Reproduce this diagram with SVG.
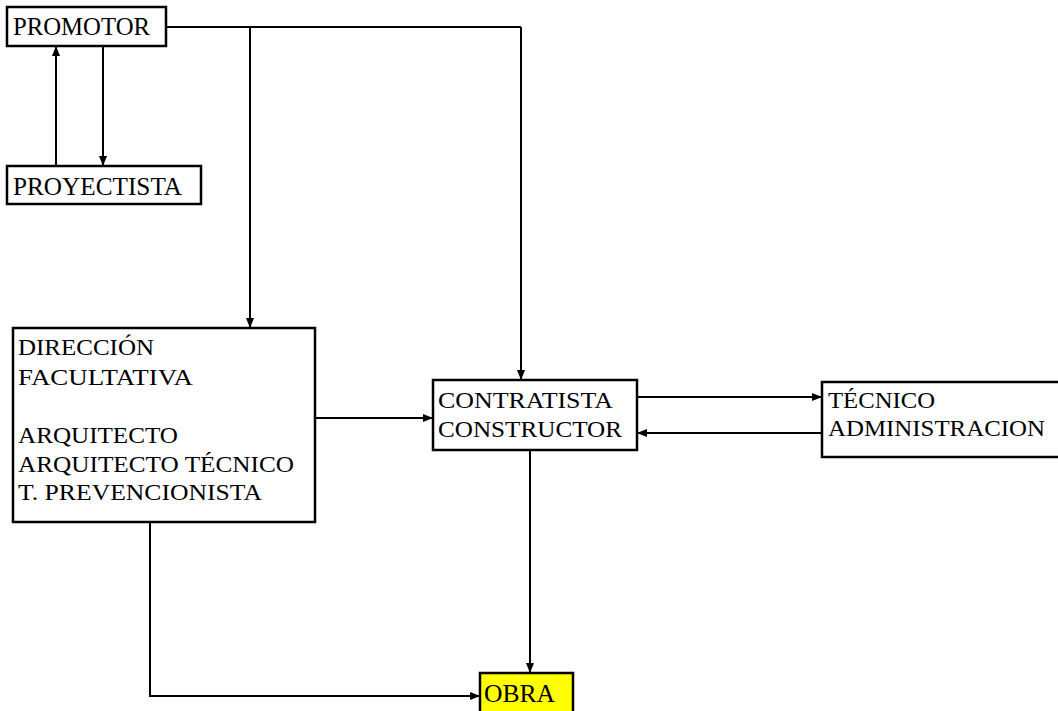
<svg xmlns="http://www.w3.org/2000/svg" width="1058" height="711" viewBox="0 0 1058 711">
<style>
.box{fill:#fff;stroke:#000;stroke-width:2.5}
.t{font-family:"Liberation Serif","Times New Roman",serif;font-size:23px;fill:#000}
.big{font-size:25px}
.c{fill:none;stroke:#000;stroke-width:2}
</style>
<defs>
<marker id="ah" markerWidth="10" markerHeight="10" refX="9" refY="5" orient="auto" markerUnits="userSpaceOnUse">
<path d="M0,1 L10,5 L0,9 Z" fill="#000"/>
</marker>
</defs>
<rect width="1058" height="711" fill="#fff"/>
<g id="connectors">
<path class="c" d="M56,166 V47" marker-end="url(#ah)"/>
<path class="c" d="M103,46 V165" marker-end="url(#ah)"/>
<path class="c" d="M167,27 H521"/>
<path class="c" d="M250,27 V327" marker-end="url(#ah)"/>
<path class="c" d="M521,27 V379" marker-end="url(#ah)"/>
<path class="c" d="M315,418 H432" marker-end="url(#ah)"/>
<path class="c" d="M637,397 H821" marker-end="url(#ah)"/>
<path class="c" d="M822,433 H638" marker-end="url(#ah)"/>
<path class="c" d="M530,450 V672" marker-end="url(#ah)"/>
<path class="c" d="M150,522 V696 H479" marker-end="url(#ah)"/>
</g>
<g id="promotor">
<rect class="box" x="7" y="7" width="159" height="39"/>
<text class="t big" x="13" y="35" textLength="137" lengthAdjust="spacingAndGlyphs">PROMOTOR</text>
</g>
<g id="proyectista">
<rect class="box" x="7" y="166" width="194" height="38"/>
<text class="t big" x="13" y="195" textLength="169" lengthAdjust="spacingAndGlyphs">PROYECTISTA</text>
</g>
<g id="direccion">
<rect class="box" x="13" y="328" width="302" height="194"/>
<text class="t" x="18" y="355" textLength="136" lengthAdjust="spacingAndGlyphs">DIRECCIÓN</text>
<text class="t" x="18" y="385" textLength="175" lengthAdjust="spacingAndGlyphs">FACULTATIVA</text>
<text class="t" x="18" y="443" textLength="160" lengthAdjust="spacingAndGlyphs">ARQUITECTO</text>
<text class="t" x="18" y="472" textLength="276" lengthAdjust="spacingAndGlyphs">ARQUITECTO TÉCNICO</text>
<text class="t" x="18" y="500" textLength="244" lengthAdjust="spacingAndGlyphs">T. PREVENCIONISTA</text>
</g>
<g id="contratista">
<rect class="box" x="433" y="380" width="204" height="70"/>
<text class="t" x="438" y="408" textLength="175" lengthAdjust="spacingAndGlyphs">CONTRATISTA</text>
<text class="t" x="438" y="437" textLength="184" lengthAdjust="spacingAndGlyphs">CONSTRUCTOR</text>
</g>
<g id="tecnico">
<rect class="box" x="822" y="382" width="240" height="75"/>
<text class="t" x="828" y="408" textLength="107" lengthAdjust="spacingAndGlyphs">TÉCNICO</text>
<text class="t" x="828" y="436" textLength="217" lengthAdjust="spacingAndGlyphs">ADMINISTRACION</text>
</g>
<g id="obra">
<rect class="box" x="480" y="673" width="93" height="45" style="fill:#ffff00"/>
<text class="t big" x="484" y="702" textLength="71" lengthAdjust="spacingAndGlyphs">OBRA</text>
</g>
</svg>
